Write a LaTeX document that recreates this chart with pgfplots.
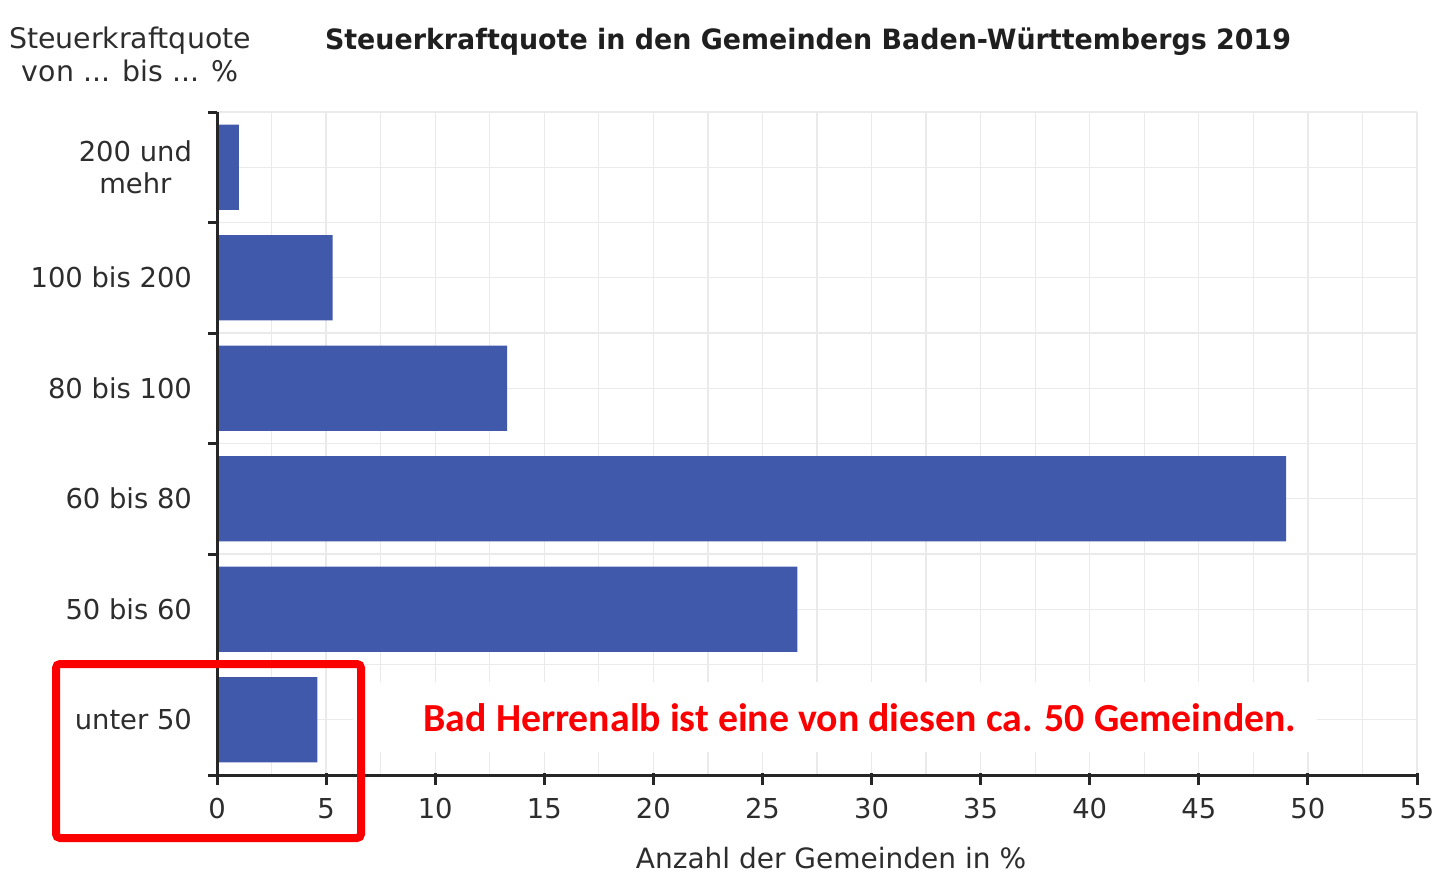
\documentclass[border=0pt]{standalone}
\usepackage{pgfplots}
\pgfplotsset{compat=1.18}
\usepackage{fontspec}
\setmainfont{DejaVu Sans}
\newfontfamily\carlito{Carlito}
\definecolor{barblue}{RGB}{65,89,170}
\definecolor{txt}{RGB}{45,45,45}
\definecolor{gridc}{RGB}{234,234,234}
\definecolor{redbox}{RGB}{250,0,0}
\begin{document}
\begin{tikzpicture}[x=1pt,y=1pt]
\useasboundingbox (0,0) rectangle (720,437.5);
\begin{axis}[
  at={(108.5pt,50pt)}, anchor=south west,
  scale only axis, width=600pt, height=331.5pt,
  xbar, bar width=0.77,
  xmin=0, xmax=55, ymin=-0.5, ymax=5.5,
  axis x line*=bottom, axis y line*=left,
  axis line style={-, draw=black!85, line width=1.5pt},
  xtick={0,5,...,55}, minor x tick num=1,
  ytick={0,...,5},
  yticklabels={unter 50,50 bis 60,60 bis 80,80 bis 100,100 bis 200,{200 und\\mehr}},
  extra y ticks={-0.5,0.5,...,5.5},
  extra y tick labels={},
  extra y tick style={grid=major},
  tick style={draw=none},
  major tick length=5pt,
  minor tick length=0pt,
  xmajorgrids, xminorgrids, ymajorgrids,
  grid style={gridc, line width=0.6pt},
  minor grid style={gridc, line width=0.6pt},
  /pgf/number format/assume math mode=true,
  ticklabel style={font=\fontsize{13.7}{16}\selectfont, text=txt},
  yticklabel style={align=center, xshift=-4pt},
  xticklabel style={yshift=-8pt},
  clip=false,
]
\addplot[fill=barblue, draw=none] coordinates {(4.6,0) (26.6,1) (49.0,2) (13.3,3) (5.3,4) (1.0,5)};
\draw[black!85, line width=1.5pt] (axis cs:0,5.5) -- (axis cs:0,-0.5) -- (axis cs:55,-0.5);
\pgfplotsinvokeforeach{0,5,...,55}{\draw[black!85, line width=1.5pt] (axis cs:#1,-0.5) ++(0pt,1pt) -- ++(0pt,-6pt);}
\pgfplotsinvokeforeach{-0.5,0.5,...,5.5}{\draw[black!85, line width=1.5pt] (axis cs:0,#1) -- ++(-4.5pt,0pt);}
\end{axis}
\node[font=\bfseries\fontsize{14}{16}\selectfont, text=black!88] at (404,416.5) {\scalebox{0.96}[1]{Steuerkraftquote in den Gemeinden Baden-Württembergs 2019}};
\node[align=center, font=\fontsize{14.2}{16.5}\selectfont, text=txt] at (65,410.5) {Steuerkraftquote\\von ... bis ... \%};
\node[font=\fontsize{14}{16}\selectfont, text=txt] at (415.5,8.5) {Anzahl der Gemeinden in \%};
\fill[white] (176.5,61.5) rectangle (658.5,96.5);
\node[font=\carlito\bfseries\fontsize{19.9}{22}\selectfont, text=redbox] at (430,78.5) {Bad Herrenalb ist eine von diesen ca. 50 Gemeinden.};
\draw[redbox, line width=4pt, rounded corners=2pt] (28,18.5) rectangle (180.5,105.5);
\end{tikzpicture}
\end{document}
